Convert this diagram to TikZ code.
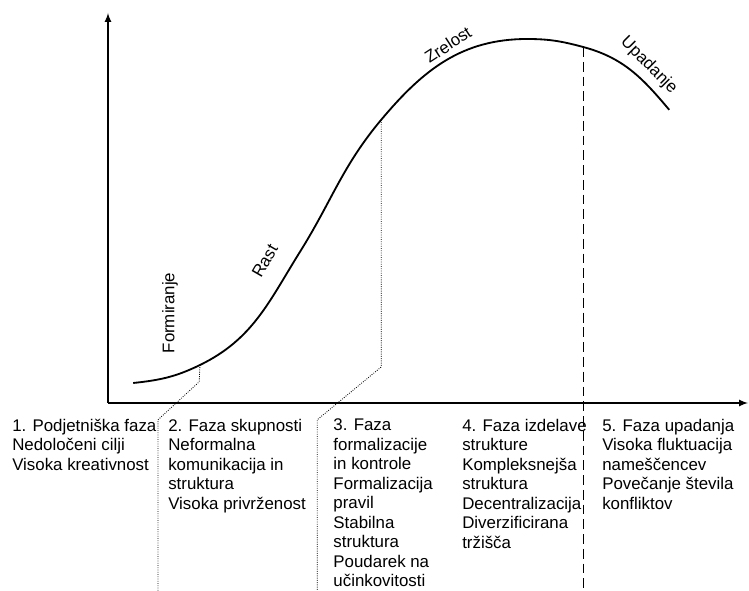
\documentclass[tikz,border=0pt]{standalone}
\usepackage{fontspec}
\setmainfont{Liberation Sans}
\usepackage{tikz}

\begin{document}
\begin{tikzpicture}[
    phase/.style={anchor=north west, align=left, inner sep=0pt, font=\fontsize{12}{13.9}\selectfont},
    stage/.style={inner sep=0pt, font=\fontsize{12}{14}\selectfont},
    guide/.style={densely dotted, line width=0.6pt}]
    \useasboundingbox (0,0) rectangle (18.725,14.775);
    \coordinate (O) at (2.7,4.7);
    \coordinate (Y) at (2.7,14.45);
    \coordinate (X) at (18.7,4.7);
    \draw[line width=1.2pt,-latex] (O) -- (Y);
    \draw[line width=1.2pt,-latex] (O) -- (X);
    % life cycle curve
    \coordinate (S) at (3.33,5.2);
    \coordinate (A) at (5.0,5.65);
    \coordinate (M) at (7.5,8.48);
    \coordinate (B) at (9.53,11.78);
    \coordinate (P) at (13.18,13.8);
    \coordinate (C) at (14.58,13.6);
    \coordinate (E) at (16.73,12.03);
    \draw[line width=1.3pt] (S) to[out=6, in=206] (A) to[out=26, in=238] (M)
        to[out=58, in=230] (B) to[out=50, in=180] (P) to[out=0, in=165] (C)
        to[out=-15, in=130] (E);
    % phase borders
    \coordinate (A1) at (4.98,5.23);
    \coordinate (A2) at (3.95,4.28);
    \coordinate (A3) at (3.95,0);
    \draw[guide] (A) -- (A1) -- (A2) -- (A3);
    \coordinate (B1) at (9.53,5.6);
    \coordinate (B2) at (7.93,4.28);
    \coordinate (B3) at (7.93,0);
    \draw[guide] (B) -- (B1) -- (B2) -- (B3);
    \coordinate (C1) at (14.58,0);
    \draw[dash pattern=on 7pt off 3.5pt, line width=0.8pt] (C) -- (C1);
    \node[stage, rotate=90] (F) at (4.25,6.95) {Formiranje};
    \node[stage, rotate=60] (R) at (6.62,8.25) {Rast};
    \node[stage, rotate=33] (Z) at (11.2,13.66) {Zrelost};
    \node[stage, rotate=-45] (U) at (16.22,13.14) {Upadanje};
    \node[phase] (P1) at (0.3,4.31) {1. Podjetniška faza\\Nedoločeni cilji\\Visoka kreativnost};
    \node[phase] (P2) at (4.2,4.31) {2. Faza skupnosti\\Neformalna\\komunikacija in\\struktura\\Visoka privrženost};
    \node[phase] (P3) at (8.33,4.31) {3. Faza\\formalizacije\\in kontrole\\Formalizacija\\pravil\\Stabilna\\struktura\\Poudarek na\\učinkovitosti};
    \node[phase] (P4) at (11.55,4.31) {4. Faza izdelave\\strukture\\Kompleksnejša\\struktura\\Decentralizacija\\Diverzificirana\\tržišča};
    \node[phase] (P5) at (15.05,4.31) {5. Faza upadanja\\Visoka fluktuacija\\nameščencev\\Povečanje števila\\konfliktov};
\end{tikzpicture}
\end{document}
